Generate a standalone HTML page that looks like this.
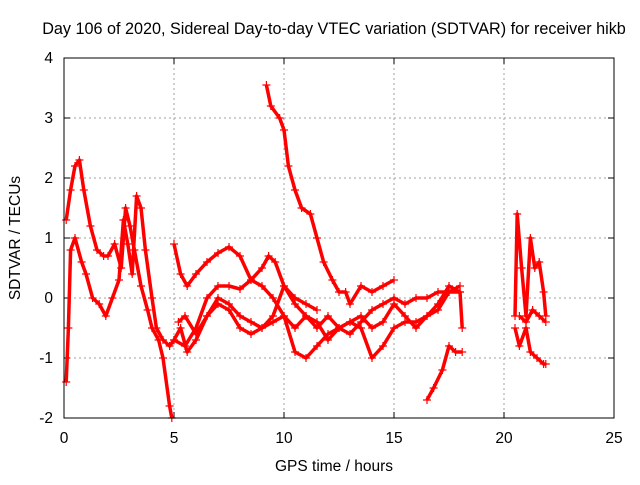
<!DOCTYPE html>
<html><head><meta charset="utf-8"><style>
body{margin:0;background:#fff;}
svg text{font-family:"Liberation Sans",sans-serif;font-size:15.5px;fill:#000;}
</style></head><body>
<svg id="chart" width="640" height="480">
<rect x="0" y="0" width="640" height="480" fill="#fff"/>
<g id="grid"></g>
<g id="ticks"></g>
<g id="series"></g>
<rect x="64" y="58" width="550" height="360" fill="none" stroke="#000" stroke-width="1"/>
<text x="334" y="34" text-anchor="middle" style="font-size:16.2px">Day 106 of 2020, Sidereal Day-to-day VTEC variation (SDTVAR) for receiver hikb</text>
<text x="334" y="471" text-anchor="middle">GPS time / hours</text>
<text transform="translate(20,238) rotate(-90)" text-anchor="middle">SDTVAR / TECUs</text>
</svg>
<script>
const xTicks=[0,5,10,15,20,25];
const yTicks=[-2,-1,0,1,2,3,4];
const traceA=[[9.2,3.55],[9.4,3.2],[9.8,3.0],[10.0,2.8],[10.2,2.2],[10.5,1.8],[10.8,1.5],[11.2,1.4],[11.5,1.0],[11.8,0.6],[12.2,0.3],[12.5,0.1],[12.8,0.1],[13.0,-0.1],[13.5,0.2],[14.0,0.1],[14.5,0.2],[15,0.3]];
const traceB=[[16.5,-1.7],[16.8,-1.5],[17.2,-1.2],[17.5,-0.8],[17.8,-0.9],[18.1,-0.9]];
const traceC=[[0.1,1.3],[0.3,1.8],[0.5,2.2],[0.7,2.3],[0.9,1.8],[1.2,1.2],[1.5,0.8],[1.8,0.7],[2.0,0.7],[2.3,0.9],[2.6,0.5],[2.8,1.5],[3.0,1.2],[3.2,0.8],[3.5,0.2],[3.8,-0.2],[4.0,-0.5],[4.3,-0.7],[4.5,-1.0],[4.8,-1.8],[4.9,-2.0]];
const traceD=[[0.1,-1.4],[0.2,-0.5],[0.3,0.8],[0.5,1.0],[0.8,0.6],[1.0,0.4],[1.3,0.0],[1.6,-0.1],[1.9,-0.3],[2.2,0],[2.5,0.3],[2.7,1.3],[2.9,0.9],[3.1,0.4],[3.3,1.7],[3.5,1.5],[3.7,0.8],[4.0,0.0],[4.2,-0.5],[4.5,-0.7],[4.8,-0.8],[5.0,-0.7],[5.3,-0.5],[5.6,-0.9],[6.0,-0.7],[6.5,-0.3],[7.0,0.0],[7.5,-0.1],[8.0,-0.3],[8.5,-0.4],[9.0,-0.5],[9.5,-0.4],[10.0,-0.3],[10.5,-0.5],[11.0,-0.3],[11.5,-0.4],[12.0,-0.7],[12.5,-0.5],[13,-0.4],[13.5,-0.3],[14,-0.5],[14.5,-0.4],[15,-0.1],[15.5,-0.3],[16,-0.5],[16.5,-0.3],[17,-0.1],[17.5,0.2],[18.0,0.1],[18.1,-0.5]];
const traceE=[[5.0,0.9],[5.3,0.4],[5.6,0.2],[6.0,0.4],[6.5,0.6],[7.0,0.75],[7.5,0.85],[8.0,0.7],[8.5,0.3],[9.0,0.5],[9.3,0.7],[9.6,0.6],[10.0,0.2],[10.5,-0.1],[11,-0.3],[11.5,-0.5],[12,-0.3],[12.5,-0.5],[13,-0.6],[13.5,-0.4],[14,-0.2],[14.5,-0.1],[15,0.0],[15.5,-0.1],[16,0.0],[16.5,0.0],[17,0.1],[17.5,0.1],[18,0.2]];
const traceF=[[5,-0.7],[5.5,-0.8],[6,-0.5],[6.5,0.0],[7.0,0.2],[7.5,0.2],[8,0.15],[8.5,0.3],[9,0.2],[9.5,0.0],[10,-0.3],[10.5,-0.9],[11,-1.0],[11.5,-0.8],[12,-0.6],[12.5,-0.5],[13,-0.4],[13.5,-0.5],[14,-1.0],[14.5,-0.8],[15,-0.5],[15.5,-0.4],[16,-0.4],[16.5,-0.3],[17,-0.2],[17.5,0.1],[18,0.1]];
const traceG=[[5.2,-0.4],[5.5,-0.3],[6,-0.6],[6.5,-0.3],[7,-0.1],[7.5,-0.2],[8,-0.5],[8.5,-0.6],[9,-0.5],[9.5,-0.3],[10,0.2],[10.5,0.0],[11,-0.1],[11.5,-0.2]];
const traceH=[[20.5,-0.3],[20.6,1.4],[20.8,0.5],[21.0,-0.3],[21.2,1.0],[21.4,0.5],[21.6,0.6],[21.8,0.1],[21.9,-0.3]];
const traceI=[[20.5,-0.5],[20.7,-0.8],[21.0,-0.5],[21.2,-0.9],[21.5,-1.0],[21.8,-1.1],[21.9,-1.1]];
const traceJ=[[20.7,-0.3],[21.0,-0.4],[21.3,-0.2],[21.6,-0.3],[21.9,-0.4]];
const traces=[traceA,traceB,traceC,traceD,traceE,traceF,traceG,traceH,traceI,traceJ];
const NS="http://www.w3.org/2000/svg";
const X=v=>64+v*22, Y=v=>58+(4-v)*60;
const grid=document.getElementById('grid'),ticks=document.getElementById('ticks'),ser=document.getElementById('series');
function mk(tag,attrs,parent){const e=document.createElementNS(NS,tag);for(const k in attrs)e.setAttribute(k,attrs[k]);parent.appendChild(e);return e;}
xTicks.forEach(t=>{
  if(t>0&&t<25){const g=mk('line',{x1:X(t),x2:X(t),y1:58,y2:418,stroke:'#a0a0a0','stroke-dasharray':'2,3'},grid);
  
  }
  mk('line',{x1:X(t),x2:X(t),y1:418,y2:412,stroke:'#000'},ticks);
  mk('line',{x1:X(t),x2:X(t),y1:58,y2:64,stroke:'#000'},ticks);
  const l=mk('text',{x:X(t),y:443,'text-anchor':'middle'},ticks);l.textContent=t;
  
  
});
yTicks.forEach(t=>{
  if(t>-2&&t<4){const g=mk('line',{x1:64,x2:614,y1:Y(t),y2:Y(t),stroke:'#a0a0a0','stroke-dasharray':'2,3'},grid);
  
  }
  mk('line',{x1:64,x2:70,y1:Y(t),y2:Y(t),stroke:'#000'},ticks);
  mk('line',{x1:614,x2:608,y1:Y(t),y2:Y(t),stroke:'#000'},ticks);
  const l=mk('text',{x:53,y:Y(t)+5,'text-anchor':'end'},ticks);l.textContent=t;
  
  
});
traces.forEach((tr,i)=>{
  const pl=mk('polyline',{points:tr.map(p=>X(p[0])+','+Y(p[1])).join(' '),fill:'none',stroke:'#ff0000','stroke-width':3.5,'stroke-linejoin':'round'},ser);
  
  
  tr.forEach(p=>{
    const x=X(p[0]),y=Y(p[1]);
    const m=mk('path',{d:`M${x-4},${y}H${x+4}M${x},${y-4}V${y+4}`,stroke:'#ff0000','stroke-width':1.2},ser);
    
    
  });
});
</script>
</body></html>
